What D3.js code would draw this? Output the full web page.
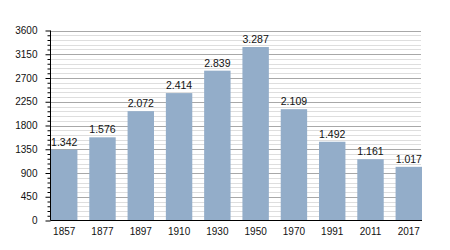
<!DOCTYPE html>
<html><head><meta charset="utf-8">
<script src="https://cdn.jsdelivr.net/npm/d3@7"></script>
<style>body{margin:0;background:#fff}svg{display:block}text{font-family:"Liberation Sans",Arial,sans-serif}</style>
</head><body>
<svg id="c" width="450" height="250"></svg>
<script>
const years = ["1857","1877","1897","1910","1930","1950","1970","1991","2011","2017"];
const population = [1342,1576,2072,2414,2839,3287,2109,1492,1161,1017];
const valueLabels = ["1.342","1.576","2.072","2.414","2.839","3.287","2.109","1.492","1.161","1.017"];
const majorTicks = [0,450,900,1350,1800,2250,2700,3150,3600];
const minorTicks = d3.range(0,3601,90);

(function(){
const svg = d3.select("#c");
const mLeft = 50.5, mRight = 421, mTop = 30.5, mBottom = 220.5;
const x = d3.scaleBand().domain(years).range([51, 422]).paddingInner(0.31).paddingOuter(0);
const y = d3.scaleLinear().domain([0,3600]).range([mBottom, mTop]);

// minor grid
svg.append("g").selectAll("line").data(minorTicks.filter(v=>v%450!==0)).join("line")
  .attr("x1", mLeft).attr("x2", mRight)
  .attr("y1", d=>Math.round(y(d))+0.5).attr("y2", d=>Math.round(y(d))+0.5)
  .attr("stroke", "#dedede").attr("stroke-width", 1);
// major grid
svg.append("g").selectAll("line").data(majorTicks.filter(v=>v>0)).join("line")
  .attr("x1", mLeft).attr("x2", mRight)
  .attr("y1", d=>Math.round(y(d))+0.5).attr("y2", d=>Math.round(y(d))+0.5)
  .attr("stroke", "#a8a8a8").attr("stroke-width", 1);

// bars
svg.append("g").selectAll("rect").data(population).join("rect")
  .attr("x", (d,i)=>x(years[i]))
  .attr("width", x.bandwidth())
  .attr("y", d=>y(d))
  .attr("height", d=>mBottom - y(d))
  .attr("fill", "#93adc9");

// value labels
svg.append("g").selectAll("text").data(population).join("text")
  .attr("x", (d,i)=>x(years[i]) + x.bandwidth()/2)
  .attr("y", d=>y(d) - 4)
  .attr("text-anchor","middle")
  .attr("font-size","10.5px")
  .attr("fill","#111")
  .text((d,i)=>valueLabels[i]);

// y axis minor ticks
const yMinor = d3.axisLeft(y).tickValues(minorTicks.filter(v=>v%450!==0)).tickSize(3).tickFormat("");
svg.append("g").attr("transform",`translate(${mLeft},0)`).call(yMinor)
  .call(g=>g.select(".domain").remove())
  .call(g=>g.selectAll("line").attr("stroke","#000"));
// y axis major
const yAxis = d3.axisLeft(y).tickValues(majorTicks).tickSize(5).tickPadding(8).tickFormat(d3.format("d"));
svg.append("g").attr("transform",`translate(${mLeft},0)`).call(yAxis)
  .call(g=>g.select(".domain").attr("d",`M0,${mTop}V${mBottom}`).attr("stroke","#000"))
  .call(g=>g.selectAll("line").attr("stroke","#000"))
  .call(g=>g.selectAll("text").attr("font-size","10px").attr("fill","#111").attr("font-family","'Liberation Sans',Arial,sans-serif"));

// x axis
const xAxis = d3.axisBottom(x).tickSize(0).tickPadding(7);
svg.append("g").attr("transform",`translate(0,${mBottom})`).call(xAxis)
  .call(g=>g.select(".domain").attr("d",`M${mLeft},0H422`).attr("stroke","#000"))
  .call(g=>g.selectAll("text").attr("font-size","10px").attr("fill","#111").attr("font-family","'Liberation Sans',Arial,sans-serif"));
})();
</script>
</body></html>
